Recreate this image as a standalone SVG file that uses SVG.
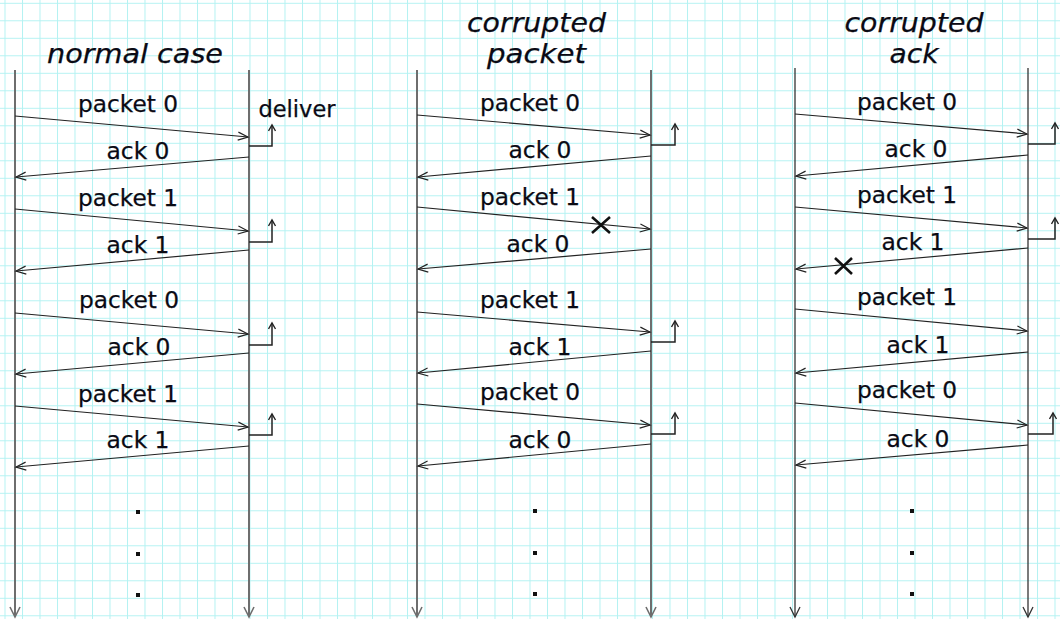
<svg xmlns="http://www.w3.org/2000/svg" width="1060" height="619" viewBox="0 0 1060 619">
<style>
.tl{stroke:#6e6e6e;stroke-width:2;fill:none;marker-end:url(#vh)}
.tl3{stroke:#333;stroke-width:1.3;fill:none;marker-end:url(#vh3)}
.msg{stroke:#222;stroke-width:1.2;fill:none;marker-end:url(#ah)}
.hook{stroke:#222;stroke-width:1.5;fill:none;marker-end:url(#hk)}
.x{stroke:#111;stroke-width:2.6;fill:none}
.lbl{font-family:"DejaVu Sans","Verdana",sans-serif;font-size:23px;fill:#0a0a14;stroke:#0a0a14;stroke-width:0.25;text-anchor:middle}
.ttl{font-family:"DejaVu Sans","Verdana",sans-serif;font-size:27px;font-style:italic;fill:#0a0a14;stroke:#0a0a14;stroke-width:0.25;text-anchor:middle}
.dot{fill:#111}
</style>
<defs>
<pattern id="grid" width="17.5" height="17.5" patternUnits="userSpaceOnUse" x="4.5" y="2.8">
<path d="M0,0.5 H17.5 M0.5,0 V17.5" stroke="#b4f2f2" stroke-width="1" fill="none"/>
</pattern>
<marker id="ah" markerUnits="userSpaceOnUse" markerWidth="14" markerHeight="12" refX="11" refY="5" orient="auto">
<path d="M1,1 L11,5 L1,9" fill="none" stroke="#222" stroke-width="1.2"/>
</marker>
<marker id="hk" markerUnits="userSpaceOnUse" markerWidth="10" markerHeight="10" refX="7" refY="4" orient="auto">
<path d="M1,0.5 L7,4 L1,7.5" fill="none" stroke="#222" stroke-width="1.4"/>
</marker>
<marker id="vh" markerUnits="userSpaceOnUse" markerWidth="14" markerHeight="14" refX="11" refY="6" orient="auto">
<path d="M1,1 L11,6 L1,11" fill="none" stroke="#6e6e6e" stroke-width="1.6"/>
</marker>
<marker id="vh3" markerUnits="userSpaceOnUse" markerWidth="14" markerHeight="14" refX="11" refY="6" orient="auto">
<path d="M1,1 L11,6 L1,11" fill="none" stroke="#333" stroke-width="1.3"/>
</marker>
</defs>
<rect width="1060" height="619" fill="#ffffff"/>
<rect width="1060" height="619" fill="url(#grid)"/>

<!-- titles -->
<text class="ttl" x="135" y="63" textLength="176" lengthAdjust="spacingAndGlyphs">normal case</text>
<text class="ttl" x="536.5" y="32" textLength="139" lengthAdjust="spacingAndGlyphs">corrupted</text>
<text class="ttl" x="536.5" y="63" textLength="99" lengthAdjust="spacingAndGlyphs">packet</text>
<text class="ttl" x="914" y="32" textLength="139" lengthAdjust="spacingAndGlyphs">corrupted</text>
<text class="ttl" x="914" y="63" textLength="49" lengthAdjust="spacingAndGlyphs">ack</text>

<!-- nodes: timelines -->
<g id="normal-sender"><line class="tl" x1="15" y1="70" x2="15" y2="617"/></g>
<g id="normal-receiver"><line class="tl" x1="249" y1="70" x2="249" y2="617"/></g>
<g id="corrpkt-sender"><line class="tl" x1="417" y1="70" x2="417" y2="617"/></g>
<g id="corrpkt-receiver"><line class="tl" x1="651" y1="70" x2="651" y2="617"/></g>
<g id="corrack-sender"><line class="tl3" x1="795" y1="68" x2="795" y2="617"/></g>
<g id="corrack-receiver"><line class="tl3" x1="1028" y1="68" x2="1028" y2="617"/></g>

<!-- connectors -->
<g id="connectors">
<!-- normal case -->
<path class="msg" d="M15,116 L248,137"/>
<path class="msg" d="M249,157 L16,177"/>
<path class="msg" d="M15,209 L248,231"/>
<path class="msg" d="M249,250 L16,271"/>
<path class="msg" d="M15,313 L248,334"/>
<path class="msg" d="M249,353 L16,374"/>
<path class="msg" d="M15,406 L248,427"/>
<path class="msg" d="M249,446 L16,467"/>
<path class="hook" d="M249,146 H272 V125"/>
<path class="hook" d="M249,242 H272 V220"/>
<path class="hook" d="M249,345 H272 V323"/>
<path class="hook" d="M249,435 H272 V414"/>
<!-- corrupted packet -->
<path class="msg" d="M417,115 L650,135"/>
<path class="msg" d="M651,156 L418,177"/>
<path class="msg" d="M417,207 L650,229"/>
<path class="msg" d="M651,249 L418,269"/>
<path class="msg" d="M417,312 L650,332"/>
<path class="msg" d="M651,351 L418,373"/>
<path class="msg" d="M417,404 L650,425"/>
<path class="msg" d="M651,444 L418,466"/>
<path class="hook" d="M651,145 H675 V124"/>
<path class="hook" d="M651,342 H675 V321"/>
<path class="hook" d="M651,434 H675 V413"/>
<path class="x" d="M592,217 L610,233 M610,217 L592,233"/>
<!-- corrupted ack -->
<path class="msg" d="M795,114 L1027,134"/>
<path class="msg" d="M1028,155 L796,176"/>
<path class="msg" d="M795,207 L1027,228"/>
<path class="msg" d="M1028,248 L796,269"/>
<path class="msg" d="M795,309 L1027,331"/>
<path class="msg" d="M1028,352 L796,373"/>
<path class="msg" d="M795,403 L1027,425"/>
<path class="msg" d="M1028,445 L796,465"/>
<path class="hook" d="M1028,144 H1055 V123"/>
<path class="hook" d="M1028,239 H1055 V218"/>
<path class="hook" d="M1028,434 H1053 V413"/>
<path class="x" d="M835,258 L852,274 M852,258 L835,274"/>
</g>

<!-- labels -->
<g id="labels">
<text class="lbl" x="128" y="112" textLength="100" lengthAdjust="spacingAndGlyphs">packet 0</text>
<text class="lbl" x="138" y="159" textLength="63" lengthAdjust="spacingAndGlyphs">ack 0</text>
<text class="lbl" x="128" y="206" textLength="100" lengthAdjust="spacingAndGlyphs">packet 1</text>
<text class="lbl" x="138" y="253" textLength="63" lengthAdjust="spacingAndGlyphs">ack 1</text>
<text class="lbl" x="129" y="308" textLength="100" lengthAdjust="spacingAndGlyphs">packet 0</text>
<text class="lbl" x="139" y="355" textLength="63" lengthAdjust="spacingAndGlyphs">ack 0</text>
<text class="lbl" x="128" y="402" textLength="100" lengthAdjust="spacingAndGlyphs">packet 1</text>
<text class="lbl" x="138" y="448" textLength="63" lengthAdjust="spacingAndGlyphs">ack 1</text>
<text class="lbl" x="297" y="117" textLength="77" lengthAdjust="spacingAndGlyphs">deliver</text>

<text class="lbl" x="530" y="111" textLength="100" lengthAdjust="spacingAndGlyphs">packet 0</text>
<text class="lbl" x="540" y="158" textLength="63" lengthAdjust="spacingAndGlyphs">ack 0</text>
<text class="lbl" x="530" y="205" textLength="100" lengthAdjust="spacingAndGlyphs">packet 1</text>
<text class="lbl" x="538" y="252" textLength="63" lengthAdjust="spacingAndGlyphs">ack 0</text>
<text class="lbl" x="530" y="308" textLength="100" lengthAdjust="spacingAndGlyphs">packet 1</text>
<text class="lbl" x="540" y="355" textLength="63" lengthAdjust="spacingAndGlyphs">ack 1</text>
<text class="lbl" x="530" y="400" textLength="100" lengthAdjust="spacingAndGlyphs">packet 0</text>
<text class="lbl" x="540" y="448" textLength="63" lengthAdjust="spacingAndGlyphs">ack 0</text>

<text class="lbl" x="907" y="110" textLength="100" lengthAdjust="spacingAndGlyphs">packet 0</text>
<text class="lbl" x="916" y="157" textLength="63" lengthAdjust="spacingAndGlyphs">ack 0</text>
<text class="lbl" x="907" y="203" textLength="100" lengthAdjust="spacingAndGlyphs">packet 1</text>
<text class="lbl" x="913" y="250" textLength="63" lengthAdjust="spacingAndGlyphs">ack 1</text>
<text class="lbl" x="907" y="305" textLength="100" lengthAdjust="spacingAndGlyphs">packet 1</text>
<text class="lbl" x="918" y="353" textLength="63" lengthAdjust="spacingAndGlyphs">ack 1</text>
<text class="lbl" x="907" y="398" textLength="100" lengthAdjust="spacingAndGlyphs">packet 0</text>
<text class="lbl" x="918" y="447" textLength="63" lengthAdjust="spacingAndGlyphs">ack 0</text>
</g>

<!-- continuation dots -->
<g id="dots">
<rect class="dot" x="136" y="510" width="4" height="4"/>
<rect class="dot" x="136" y="552" width="4" height="4"/>
<rect class="dot" x="136" y="593" width="4" height="4"/>
<rect class="dot" x="533" y="509" width="4" height="4"/>
<rect class="dot" x="533" y="551" width="4" height="4"/>
<rect class="dot" x="533" y="592" width="4" height="4"/>
<rect class="dot" x="910" y="509" width="4" height="4"/>
<rect class="dot" x="910" y="551" width="4" height="4"/>
<rect class="dot" x="910" y="592" width="4" height="4"/>
</g>
</svg>
